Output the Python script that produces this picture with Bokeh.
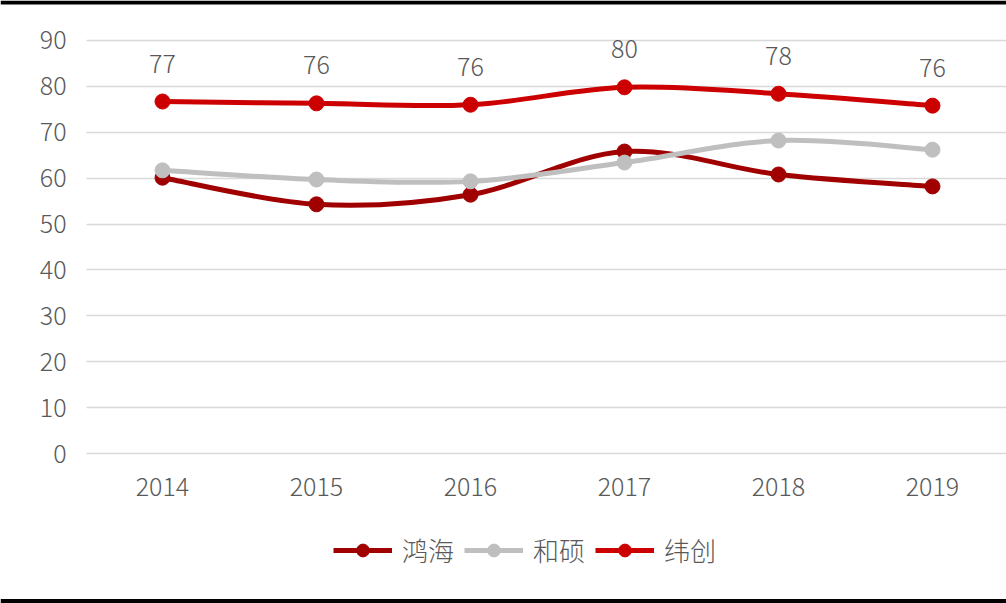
import numpy as np
from bokeh.plotting import figure
from bokeh.models import Range1d, FixedTicker, Legend, LegendItem, ColumnDataSource, BoxAnnotation
from bokeh.embed import file_html
from bokeh.resources import INLINE
from bokeh.core.properties import value

years = ["2014", "2015", "2016", "2017", "2018", "2019"]
honhai = [60.1, 54.3, 56.4, 65.8, 60.8, 58.2]
pegatron = [61.7, 59.7, 59.3, 63.4, 68.2, 66.2]
wistron = [76.7, 76.3, 76.0, 79.8, 78.4, 75.8]
wistron_labels = ["77", "76", "76", "80", "78", "76"]
series_names = ["鸿海", "和硕", "纬创"]
series_colors = ["#A00000", "#BFBFBF", "#CC0000"]
y_ticks = [0, 10, 20, 30, 40, 50, 60, 70, 80, 90]

FONT = "'Noto Sans CJK SC Light', 'Noto Sans CJK SC'"
TXT = "#595959"

W, H = 1006, 603
xs = list(range(len(years)))

# scales (pixels per unit) and ranges
PX_X = 154.0
PX_Y = 4.589
X0_PX = 162.0      # pixel of first category
Y0_PX = 453.0      # pixel of value 0
x_start = -X0_PX / PX_X
x_end = (W - X0_PX) / PX_X
y_end = Y0_PX / PX_Y
y_start = -(H - Y0_PX) / PX_Y
grid_left = -0.4935


def smooth_segments(xv, yv):
    x = np.asarray(xv, float)
    y = np.asarray(yv, float)
    n = len(x)
    xp = np.concatenate([[x[0]], x, [x[-1]]])
    yp = np.concatenate([[y[0]], y, [y[-1]]])
    d = dict(x0=[], y0=[], x1=[], y1=[], cx0=[], cy0=[], cx1=[], cy1=[])
    for i in range(n - 1):
        px0, py0 = xp[i], yp[i]
        px1, py1 = xp[i + 1], yp[i + 1]
        px2, py2 = xp[i + 2], yp[i + 2]
        px3, py3 = xp[i + 3], yp[i + 3]
        d["x0"].append(px1); d["y0"].append(py1)
        d["x1"].append(px2); d["y1"].append(py2)
        d["cx0"].append(px1 + (px2 - px0) / 6.0)
        d["cy0"].append(py1 + (py2 - py0) / 6.0)
        d["cx1"].append(px2 - (px3 - px1) / 6.0)
        d["cy1"].append(py2 - (py3 - py1) / 6.0)
    return ColumnDataSource(d)


p = figure(width=W, height=H, output_backend="svg", toolbar_location=None,
           x_range=Range1d(x_start, x_end), y_range=Range1d(y_start, y_end),
           min_border=0)
p.outline_line_color = None
p.background_fill_color = "white"
p.border_fill_color = "white"

p.xgrid.grid_line_color = None
p.ygrid.grid_line_color = "#D9D9D9"
p.ygrid.grid_line_width = 1.5
p.yaxis.ticker = FixedTicker(ticks=y_ticks)
p.xaxis.ticker = FixedTicker(ticks=xs)
p.xaxis.major_label_overrides = {i: y for i, y in enumerate(years)}
p.xaxis.fixed_location = 0
p.yaxis.fixed_location = grid_left

for ax in (p.xaxis, p.yaxis):
    ax.axis_line_color = None
    ax.major_tick_line_color = None
    ax.minor_tick_line_color = None
    ax.major_tick_out = 0
    ax.major_tick_in = 0
    ax.major_label_text_font = FONT
    ax.major_label_text_font_size = "25px"
    ax.major_label_text_color = TXT
p.yaxis.major_label_standoff = 20
p.xaxis.major_label_standoff = 24

# mask grid lines left of the plotting area (under the y tick labels)
p.add_layout(BoxAnnotation(right=grid_left, fill_color="white", fill_alpha=1,
                           line_color=None, level="underlay"))

# black rules at top and bottom
p.add_layout(BoxAnnotation(bottom=y_end - 4 / PX_Y, fill_color="black", fill_alpha=1,
                           line_color=None, level="overlay"))
p.add_layout(BoxAnnotation(top=y_start + 4.5 / PX_Y, fill_color="black", fill_alpha=1,
                           line_color=None, level="overlay"))

items = []
for name, vals, col in zip(series_names, [honhai, pegatron, wistron], series_colors):
    src = smooth_segments(xs, vals)
    p.bezier(x0="x0", y0="y0", x1="x1", y1="y1", cx0="cx0", cy0="cy0", cx1="cx1", cy1="cy1",
             source=src, line_color=col, line_width=5, line_cap="round")
    sc = p.scatter(xs, vals, size=15, color=col)
    dummy = p.line(x=[np.nan], y=[np.nan], line_color=col, line_width=5)
    items.append(LegendItem(label=name, renderers=[dummy, sc]))

p.text(x=xs, y=wistron, text=wistron_labels, text_font=value(FONT), text_font_size="25px",
       text_color=TXT, text_align="center", text_baseline="middle", y_offset=-38)

legend = Legend(items=items, orientation="horizontal", location=(333, 35),
                label_text_font=FONT, label_text_font_size="26px", label_text_color=TXT,
                glyph_width=59, glyph_height=32, label_standoff=10, spacing=10,
                border_line_color=None, background_fill_alpha=0, margin=0, padding=0)
p.add_layout(legend, "center")

open("out.html", "w").write(file_html(p, INLINE))
